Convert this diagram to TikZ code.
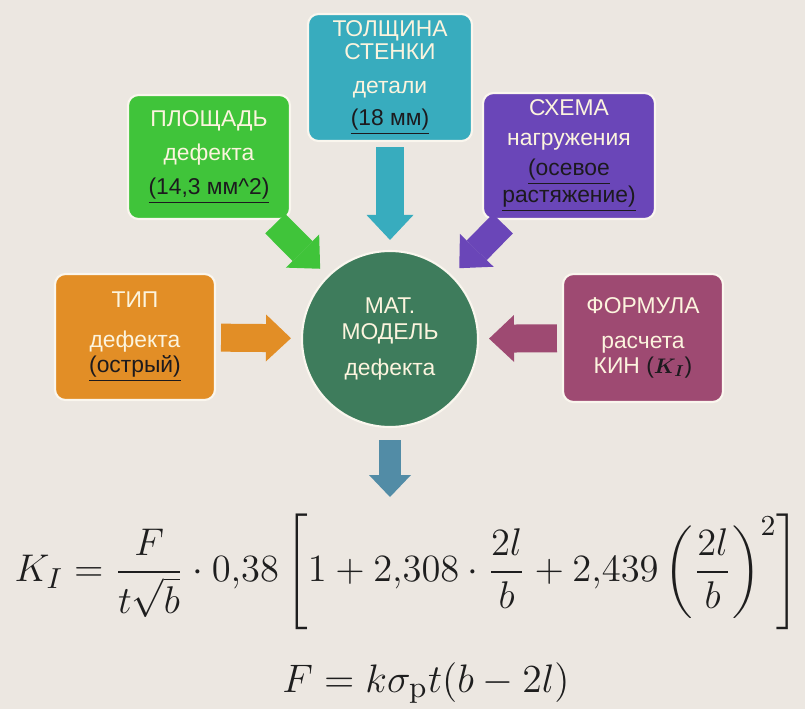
\documentclass[tikz,border=0pt]{standalone}
\usepackage{fontspec}
\setsansfont{Liberation Sans}
\usepackage{amsmath}
\usepackage{graphicx}
\usetikzlibrary{arrows.meta}

\definecolor{bgbeige}{RGB}{236,231,225}
\definecolor{boxrim}{RGB}{250,246,238}
\definecolor{boxtext}{RGB}{252,244,222}
\definecolor{valtext}{RGB}{28,26,30}
\definecolor{areagreen}{RGB}{64,196,58}
\definecolor{wallteal}{RGB}{56,172,190}
\definecolor{loadpurple}{RGB}{106,70,184}
\definecolor{typeorange}{RGB}{226,142,38}
\definecolor{kinmaroon}{RGB}{158,74,114}
\definecolor{modelgreen}{RGB}{62,124,92}
\definecolor{downblue}{RGB}{82,140,166}
\definecolor{formulaink}{RGB}{30,30,30}

\newcommand{\factval}[1]{\textcolor{valtext}{\underline{#1}}}

\begin{document}
\begin{tikzpicture}[
  font=\sffamily\fontsize{13}{14.5}\selectfont,
  factorbox/.style={draw=boxrim,line width=1.2pt,rounded corners=6pt,align=center,text=boxtext,inner sep=2pt},
  bigarrow/.style={line width=0.56cm,-{Triangle[length=0.5cm,width=0.94cm,line width=0pt]},shorten <=0.1cm,shorten >=0.2cm}
]
  \useasboundingbox[fill=bgbeige] (0,0) rectangle (16.1,-14.18);

  % factors around the model
  \node[factorbox,fill=wallteal,minimum width=3.28cm,minimum height=2.54cm,inner sep=0pt] (thickness) at (7.8,-1.55)
    {ТОЛЩИНА\\[-1.5pt]СТЕНКИ\\[5pt]детали\\[3.5pt]\factval{(18 мм)}};
  \node[factorbox,fill=areagreen,minimum width=3.24cm,minimum height=2.48cm] (area) at (4.18,-3.14)
    {ПЛОЩАДЬ\\[5pt]дефекта\\[5pt]\factval{(14,3 мм\textasciicircum 2)}};
  \node[factorbox,fill=loadpurple,minimum width=3.44cm,minimum height=2.52cm] (scheme) at (11.38,-3.12)
    {СХЕМА\\[2.5pt]нагружения\\[2.5pt]\factval{(осевое}\\\factval{растяжение)}};
  \node[factorbox,fill=typeorange,minimum width=3.2cm,minimum height=2.52cm] (type) at (2.7,-6.74)
    {ТИП\\[8pt]дефекта\\\factval{(острый)}};
  \node[factorbox,fill=kinmaroon,minimum width=3.2cm,minimum height=2.56cm] (kinformula) at (12.86,-6.76)
    {ФОРМУЛА\\[5pt]расчета\\КИН \textcolor{valtext}{($\boldsymbol{K_I}$)}};

  \node[circle,draw=boxrim,line width=1.2pt,fill=modelgreen,text=boxtext,align=center,minimum size=3.52cm,inner sep=0pt] (model) at (7.8,-6.78)
    {МАТ.\\МОДЕЛЬ\\[6pt]дефекта};

  \draw[bigarrow,wallteal] (thickness) -- (model);
  \draw[bigarrow,areagreen] (area) -- (model);
  \draw[bigarrow,loadpurple] (scheme) -- (model);
  \draw[bigarrow,typeorange] (type) -- (model);
  \draw[bigarrow,kinmaroon] (kinformula) -- (model);

  % result
  \coordinate (formtop) at (7.8,-9.94);
  \draw[line width=0.44cm,downblue,-{Triangle[length=0.44cm,width=0.84cm,line width=0pt]},shorten <=0.24cm] (model) -- (formtop);

  \node[text=formulaink] (kformula) at (8.14,-11.44)
    {\resizebox{15.7cm}{!}{$\displaystyle K_I=\frac{F}{t\sqrt{b}}\cdot 0{,}38\left[1+2{,}308\cdot\frac{2l}{b}+2{,}439\left(\frac{2l}{b}\right)^{2}\right]$}};
  \node[text=formulaink] (fformula) at (8.52,-13.66)
    {\resizebox{5.74cm}{!}{$F=k\sigma_{\mathrm{p}}t(b-2l)$}};
\end{tikzpicture}
\end{document}
